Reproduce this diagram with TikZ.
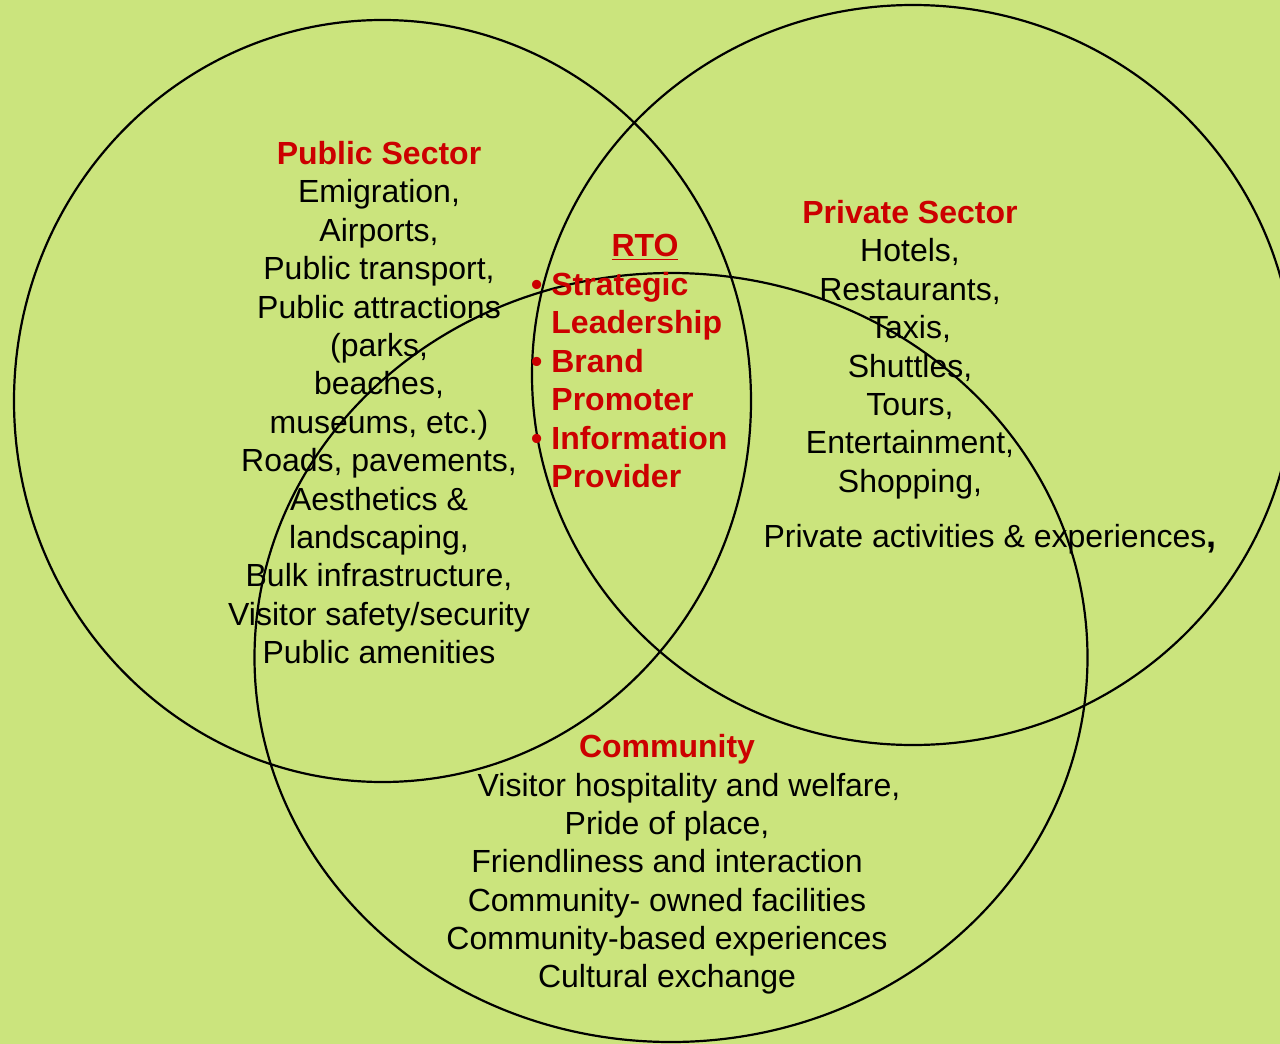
\documentclass[tikz,border=0pt]{standalone}
\usepackage{fontspec}
\setmainfont{Liberation Sans}
\usetikzlibrary{positioning}
\definecolor{venngreen}{RGB}{203,228,125}
\definecolor{vennred}{RGB}{204,0,0}
\tikzstyle{ring} = [draw=black, line width=1.1pt]
\tikzstyle{group} = [align=center, inner sep=0pt, font=\fontsize{16pt}{19.2pt}\selectfont]
\tikzstyle{rtolist} = [group, align=left, text=vennred, font=\fontsize{16pt}{19.2pt}\selectfont\bfseries]
\newcommand{\heading}[1]{{\color{vennred}\bfseries #1}}
\newcommand{\rtoitem}{\llap{\textbullet\hspace{4.5pt}}}

\begin{document}
\begin{tikzpicture}[x=0.5pt, y=-0.5pt]
    \useasboundingbox (0,0) rectangle (1280,1044);
    \fill[venngreen] (0,0) rectangle (1280,1044);

    % the three sectors
    \draw[ring] (382.5,401) ellipse [x radius=368.5, y radius=381];
    \draw[ring] (913,375) ellipse [x radius=381, y radius=370];
    \draw[ring] (671,657.5) ellipse [x radius=416.5, y radius=384.5];

    \node (public) [group, anchor=north] at (379,141) {\heading{Public Sector}\\Emigration,\\Airports,\\Public transport,\\Public attractions\\(parks,\\beaches,\\museums, etc.)\\Roads, pavements,\\Aesthetics \&\\landscaping,\\Bulk infrastructure,\\Visitor safety/security\\Public amenities};

    \node (private) [group, anchor=north] at (910,200) {\heading{Private Sector}\\Hotels,\\Restaurants,\\Taxis,\\Shuttles,\\Tours,\\Entertainment,\\Shopping,};
    \node (activities) [group, anchor=north] at (990,524) {Private activities \& experiences{\bfseries\fontsize{18pt}{18pt}\selectfont,}};

    \node (rto) [group, anchor=north] at (645,234) {\heading{\underline{RTO}}};
    \node (roles) [rtolist, anchor=north west] at (551,272) {\rtoitem Strategic\\Leadership\\\rtoitem Brand\\Promoter\\\rtoitem Information\\Provider};

    \node (community) [group, anchor=north] at (667,734) {\heading{Community}\\\hspace*{22pt}Visitor hospitality and welfare,\\Pride of place,\\Friendliness and interaction\\Community- owned facilities\\Community-based experiences\\Cultural exchange};
\end{tikzpicture}
\end{document}
